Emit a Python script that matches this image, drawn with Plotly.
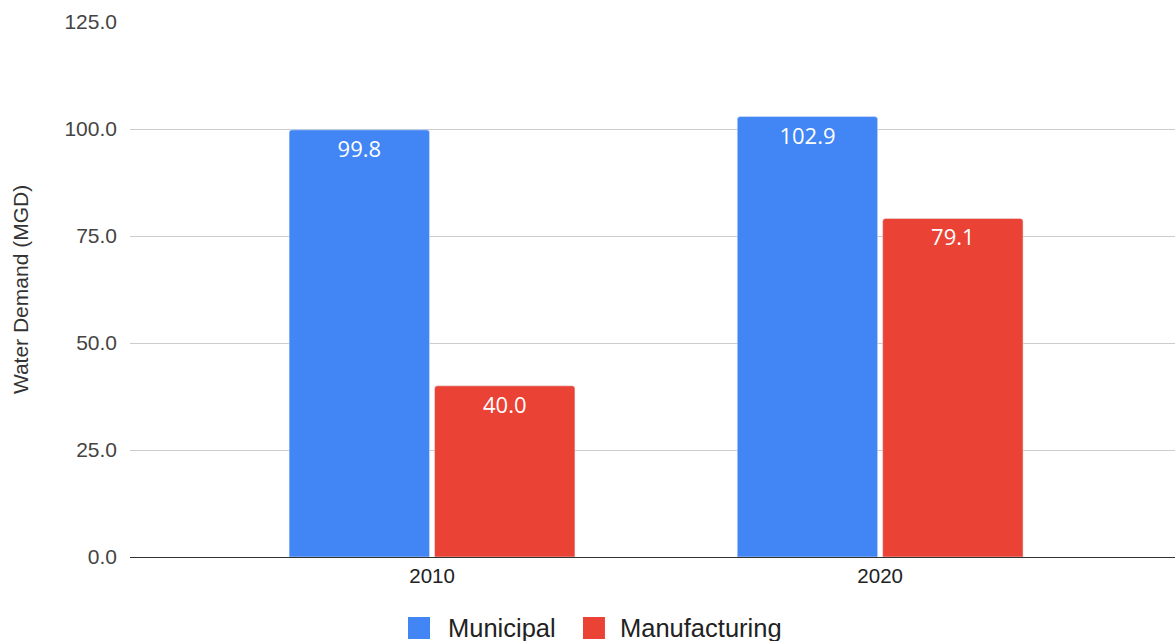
import plotly.graph_objects as go

years = ["2010", "2020"]
municipal = [99.8, 102.9]
manufacturing = [40.0, 79.1]
series_names = ["Municipal", "Manufacturing"]
series_colors = ["#4285F4", "#EA4335"]
y_ticks = [0, 25, 50, 75, 100, 125]
y_tick_labels = ["0.0", "25.0", "50.0", "75.0", "100.0", "125.0"]

fig = go.Figure()
for name, vals, col in zip(series_names, [municipal, manufacturing], series_colors):
    fig.add_trace(go.Bar(
        x=years, y=vals, name=name, marker_color=col,
        text=[f"{v:.1f}" for v in vals], textposition="inside",
        insidetextanchor="end", textangle=0,
        textfont=dict(family="Open Sans", size=22, color="white"),
        showlegend=False,
    ))

# custom legend (large square swatches) in paper coordinates
leg_y0, leg_y1, leg_yc = -0.1533, -0.1121, -0.1327
swatch_x = [(0.2660, 0.2871), (0.4335, 0.4545)]
label_x = [0.3024, 0.4670]
for (x0, x1), lx, name, col in zip(swatch_x, label_x, series_names, series_colors):
    fig.add_shape(type="rect", xref="paper", yref="paper",
                  x0=x0, x1=x1, y0=leg_y0, y1=leg_y1,
                  fillcolor=col, line=dict(width=0))
    fig.add_annotation(xref="paper", yref="paper", x=lx, y=leg_yc,
                       xanchor="left", yanchor="middle", showarrow=False,
                       text=name, font=dict(size=25.5, color="#222"))

fig.update_layout(
    width=1175, height=641,
    margin=dict(l=130, r=0, t=22, b=84),
    paper_bgcolor="white", plot_bgcolor="white",
    barmode="group", bargap=0.351, bargroupgap=0.0345,
    barcornerradius=3,
    showlegend=False,
    font=dict(family="Liberation Sans, Arial", size=20, color="#444"),
    xaxis=dict(
        type="category", range=[-0.674, 1.658],
        showgrid=False, ticks="", tickfont=dict(size=20.5, color="#222"),
        showline=True, linecolor="#333", linewidth=1,
    ),
    yaxis=dict(
        range=[0, 125], tickvals=y_ticks, ticktext=y_tick_labels,
        showgrid=True, gridcolor="#cccccc", gridwidth=1,
        zeroline=False, ticks="", ticklabelstandoff=12,
        tickfont=dict(size=21, color="#444"),
        title=dict(text="Water Demand (MGD)", font=dict(size=21, color="#333"), standoff=30),
    ),
)

fig.write_html("out.html")
